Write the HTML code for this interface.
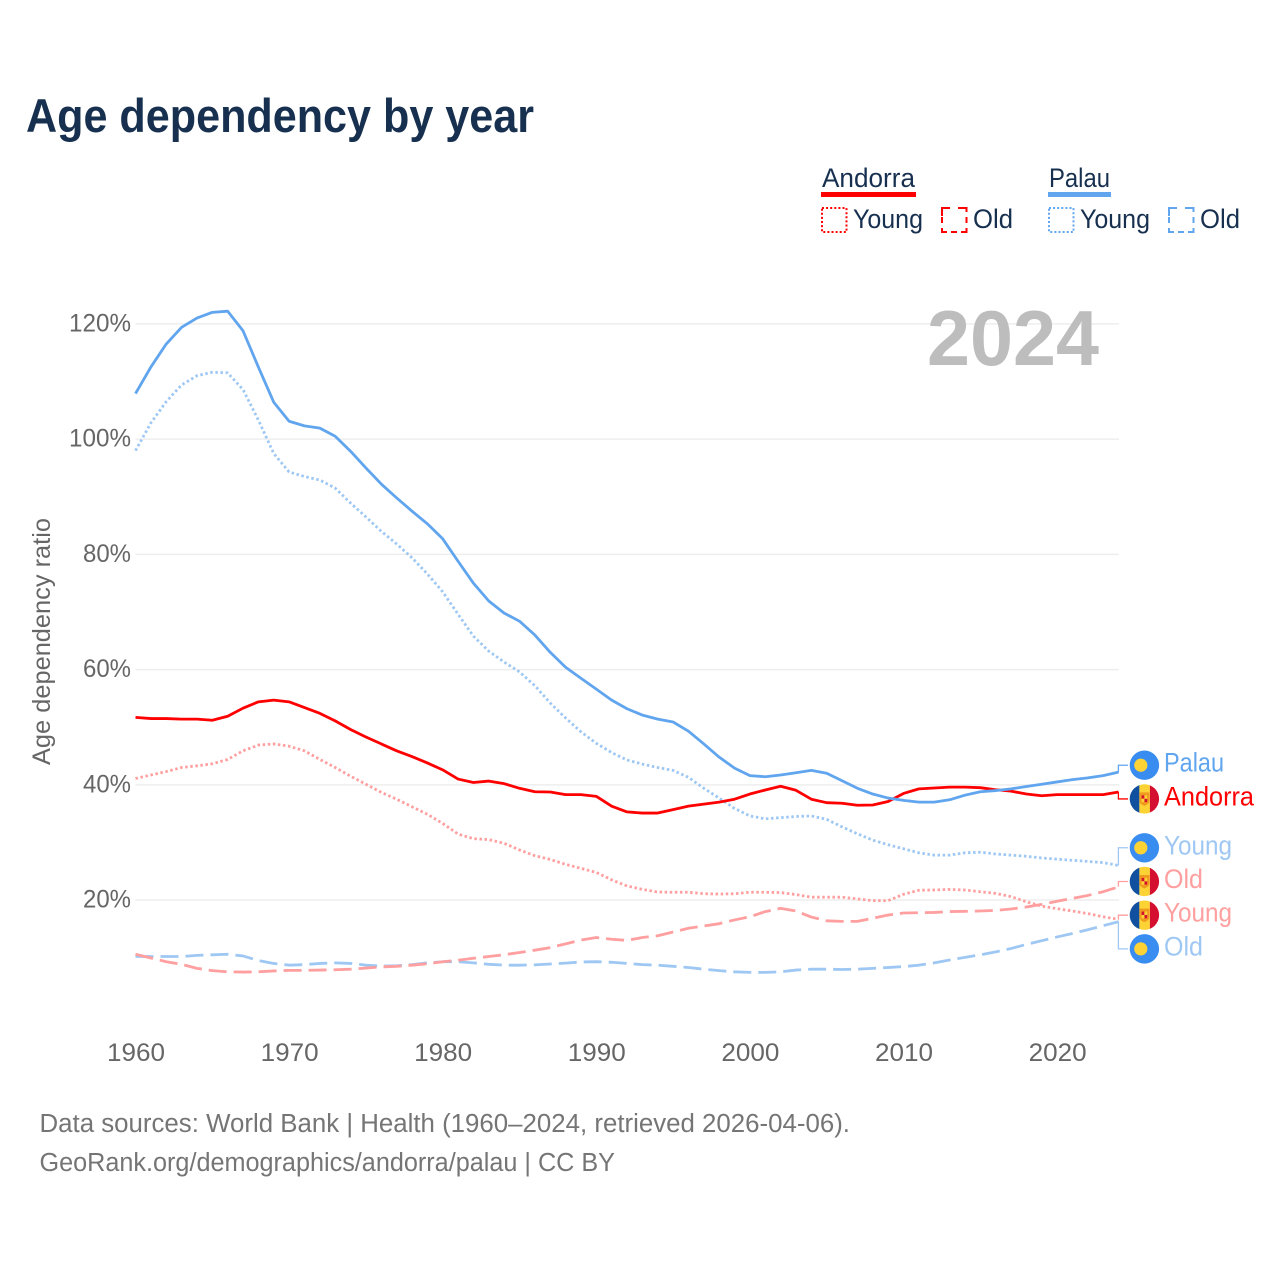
<!DOCTYPE html>
<html lang="en">
<head>
<meta charset="utf-8">
<title>Age dependency by year</title>
<style>
html,body{margin:0;padding:0;background:#fff;width:1280px;height:1280px;overflow:hidden}
svg{display:block}
text{font-family:"Liberation Sans",sans-serif}
</style>
</head>
<body>
<svg id="chart" xmlns="http://www.w3.org/2000/svg" width="1280" height="1280" viewBox="0 0 1280 1280">
  <defs>
    <clipPath id="flag-clip"><circle cx="0" cy="0" r="14.7"/></clipPath>
    <g id="flag-palau">
      <circle cx="0" cy="0" r="14.7" fill="#3a8df0"/>
      <circle cx="-3.6" cy="0" r="6.6" fill="#fdd235"/>
    </g>
    <g id="flag-andorra">
      <g clip-path="url(#flag-clip)">
        <rect x="-15" y="-15" width="10" height="30" fill="#10509e"/>
        <rect x="-5" y="-15" width="10.5" height="30" fill="#fdd235"/>
        <rect x="5.5" y="-15" width="10" height="30" fill="#d50f2f"/>
      </g>
      <path d="M-5 -6.500 H5 V2 Q5 5 0 7 Q-5 5 -5 2 Z" fill="#ef9a1f"/>
      <rect x="-2.8" y="-3.6" width="2.8" height="3.4" fill="#d50f2f"/>
      <rect x="0" y="-0.2" width="2.8" height="3.4" fill="#d50f2f"/>
      <rect x="0" y="-3.6" width="2.8" height="3.4" fill="#fdd235"/>
      <rect x="-2.8" y="-0.2" width="2.8" height="3.4" fill="#fdd235"/>
    </g>
  </defs>

  <rect width="1280" height="1280" fill="#fff"/>
  <text x="26" y="132" font-size="47" font-weight="700" fill="#17304f" textLength="508" lengthAdjust="spacingAndGlyphs">Age dependency by year</text>

  <g>
    <g>
      <text x="822" y="187" font-size="27" fill="#17304f" textLength="93" lengthAdjust="spacingAndGlyphs">Andorra</text>
      <rect x="821" y="192" width="95" height="5" fill="#ff0000"/>
      <rect x="822" y="208" width="24.5" height="24" fill="none" stroke="#ff0000" stroke-width="2" stroke-dasharray="2 2.1"/>
      <text x="853" y="228" font-size="27" fill="#17304f" textLength="70" lengthAdjust="spacingAndGlyphs">Young</text>
      <path transform="translate(942 208)" d="M0 8V0H8M16 0H24.500V4M24.500 9V15M24.500 20V24H19M15 24H9M5 24H0V20M0 15V9M0 4V0" fill="none" stroke="#ff0000" stroke-width="2"/>
      <text x="973" y="228" font-size="27" fill="#17304f" textLength="40" lengthAdjust="spacingAndGlyphs">Old</text>
    </g>
    <g>
      <text x="1049" y="187" font-size="27" fill="#17304f" textLength="61" lengthAdjust="spacingAndGlyphs">Palau</text>
      <rect x="1048" y="192" width="63" height="5" fill="#60a5ee"/>
      <rect x="1049" y="208" width="24.500" height="24" fill="none" stroke="#60a5ee" stroke-width="2" stroke-dasharray="2 2.1"/>
      <text x="1080" y="228" font-size="27" fill="#17304f" textLength="70" lengthAdjust="spacingAndGlyphs">Young</text>
      <path transform="translate(1169 208)" d="M0 8V0H8M16 0H24.500V4M24.500 9V15M24.500 20V24H19M15 24H9M5 24H0V20M0 15V9M0 4V0" fill="none" stroke="#60a5ee" stroke-width="2"/>
      <text x="1200" y="228" font-size="27" fill="#17304f" textLength="40" lengthAdjust="spacingAndGlyphs">Old</text>
    </g>
  </g>

  <g id="grid"></g>
  <text x="927" y="365" font-size="78" font-weight="700" fill="#bdbdbd" textLength="172" lengthAdjust="spacingAndGlyphs">2024</text>
  <g id="y-ticks"></g>
  <g id="x-ticks"></g>
  <text transform="translate(50 641.500) rotate(-90)" text-anchor="middle" font-size="25" fill="#666666" textLength="247" lengthAdjust="spacingAndGlyphs">Age dependency ratio</text>
  <g id="series"></g>
  <g id="end-labels"></g>

  <g>
    <text x="39.500" y="1132" font-size="25.500" fill="#757575" textLength="810.500" lengthAdjust="spacingAndGlyphs">Data sources: World Bank | Health (1960–2024, retrieved 2026-04-06).</text>
    <text x="39.500" y="1171" font-size="25.500" fill="#757575" textLength="575.500" lengthAdjust="spacingAndGlyphs">GeoRank.org/demographics/andorra/palau | CC BY</text>
  </g>
</svg>

<script>
const years = [1960,1961,1962,1963,1964,1965,1966,1967,1968,1969,1970,1971,1972,1973,1974,1975,1976,1977,1978,1979,1980,1981,1982,1983,1984,1985,1986,1987,1988,1989,1990,1991,1992,1993,1994,1995,1996,1997,1998,1999,2000,2001,2002,2003,2004,2005,2006,2007,2008,2009,2010,2011,2012,2013,2014,2015,2016,2017,2018,2019,2020,2021,2022,2023,2024];
const yTickValues = [20,40,60,80,100,120];
const xTickValues = [1960,1970,1980,1990,2000,2010,2020];

const palauTotal = [107.9,112.5,116.5,119.4,121.0,122.0,122.2,118.8,112.5,106.4,103.1,102.3,101.9,100.5,97.9,95.0,92.2,89.8,87.5,85.3,82.7,78.8,75.0,71.9,69.8,68.4,66.0,63.0,60.4,58.5,56.6,54.7,53.2,52.1,51.4,50.9,49.3,47.1,44.8,42.9,41.6,41.4,41.7,42.1,42.5,42.0,40.7,39.4,38.4,37.7,37.3,37.0,37.0,37.4,38.2,38.8,39.0,39.3,39.7,40.1,40.5,40.9,41.2,41.6,42.2];
const palauYoung = [98.0,102.8,106.5,109.4,111.0,111.6,111.5,108.6,103.3,97.5,94.3,93.5,92.9,91.5,88.9,86.5,84.0,81.8,79.4,76.6,73.5,69.6,65.8,63.2,61.3,59.6,57.2,54.2,51.6,49.2,47.2,45.6,44.3,43.6,43.0,42.5,41.3,39.4,37.7,35.9,34.6,34.1,34.3,34.5,34.6,34.0,32.7,31.5,30.4,29.6,28.9,28.2,27.8,27.8,28.2,28.3,28.0,27.8,27.6,27.3,27.1,26.9,26.7,26.5,26.0];
const palauOld = [10.2,10.2,10.2,10.2,10.4,10.5,10.6,10.3,9.5,9.0,8.7,8.8,9.0,9.1,9.0,8.7,8.55,8.6,8.8,9.1,9.3,9.3,9.1,8.85,8.7,8.7,8.75,8.9,9.05,9.25,9.3,9.2,9.0,8.8,8.7,8.5,8.3,8.0,7.75,7.55,7.45,7.45,7.55,7.85,8.0,8.0,7.95,8.0,8.15,8.3,8.45,8.7,9.1,9.6,10.05,10.5,11.0,11.6,12.3,12.95,13.6,14.2,14.85,15.55,16.25];
const andorraTotal = [51.7,51.5,51.5,51.4,51.4,51.2,51.9,53.3,54.4,54.7,54.4,53.4,52.4,51.1,49.6,48.3,47.1,45.9,44.9,43.8,42.6,41.0,40.4,40.65,40.2,39.4,38.8,38.75,38.3,38.3,38.0,36.3,35.3,35.1,35.1,35.7,36.3,36.65,37.0,37.5,38.4,39.1,39.75,39.05,37.5,36.9,36.8,36.45,36.5,37.1,38.5,39.3,39.45,39.6,39.6,39.5,39.15,38.9,38.4,38.1,38.3,38.3,38.3,38.3,38.75];
const andorraYoung = [41.1,41.7,42.3,43.0,43.3,43.65,44.4,45.9,46.9,47.1,46.7,45.9,44.4,43.0,41.5,40.1,38.7,37.5,36.2,34.9,33.3,31.45,30.65,30.5,29.85,28.7,27.7,27.05,26.2,25.5,24.8,23.5,22.45,21.85,21.4,21.35,21.35,21.1,21.05,21.1,21.35,21.35,21.3,20.95,20.5,20.5,20.5,20.2,19.9,19.9,21.0,21.7,21.75,21.85,21.75,21.45,21.15,20.6,19.7,18.95,18.5,18.1,17.65,17.1,16.65];
const andorraOld = [10.6,9.95,9.3,8.85,8.15,7.75,7.55,7.5,7.55,7.7,7.8,7.8,7.85,7.9,8.0,8.2,8.4,8.5,8.7,8.95,9.3,9.55,9.9,10.2,10.5,10.9,11.3,11.75,12.4,13.05,13.5,13.2,13.0,13.5,13.8,14.45,15.1,15.5,15.9,16.55,17.1,18.0,18.55,18.1,17.05,16.4,16.3,16.3,16.85,17.4,17.75,17.8,17.85,18.0,18.05,18.1,18.2,18.45,18.8,19.25,19.8,20.3,20.8,21.45,22.3];

const SVG_NS = 'http://www.w3.org/2000/svg';
const xScale = function (year) { return 135.5 + (year - 1960) * 15.36; };
const yScale = function (value) { return 1015.3 - value * 5.762; };

function make(parent, tag, attrs, text) {
  const el = document.createElementNS(SVG_NS, tag);
  for (const k in attrs) el.setAttribute(k, attrs[k]);
  if (text !== undefined) el.textContent = text;
  parent.appendChild(el);
  return el;
}

const gridGroup = document.getElementById('grid');
const yGroup = document.getElementById('y-ticks');
yTickValues.forEach(function (v) {
  const line = make(gridGroup, 'line', {x1: 135.5, x2: 1119, y1: yScale(v), y2: yScale(v), stroke: '#eeeeee', 'stroke-width': 1.5});
  
  
  const label = make(yGroup, 'text', {x: 131, y: yScale(v) + 7.5, 'text-anchor': 'end', 'font-size': 25, fill: '#666666', textLength: v >= 100 ? 62 : 48, lengthAdjust: 'spacingAndGlyphs'}, v + '%');
  
  
});

const xGroup = document.getElementById('x-ticks');
xTickValues.forEach(function (t) {
  const label = make(xGroup, 'text', {x: xScale(t) + 0.5, y: 1061, 'text-anchor': 'middle', 'font-size': 25, fill: '#666666', textLength: 58, lengthAdjust: 'spacingAndGlyphs'}, String(t));
  
  
});

const seriesList = [
  {id: 'palau-old', values: palauOld, color: '#9ec8f3', dash: '18 7', width: 2.8, label: 'Old', flag: 'flag-palau', group: 'parts'},
  {id: 'andorra-old', values: andorraOld, color: '#ff9f9f', dash: '18 7', width: 2.8, label: 'Old', flag: 'flag-andorra', group: 'parts'},
  {id: 'andorra-young', values: andorraYoung, color: '#ff9f9f', dash: '2.5 2.6', width: 2.8, label: 'Young', flag: 'flag-andorra', group: 'parts'},
  {id: 'palau-young', values: palauYoung, color: '#9ec8f3', dash: '2.5 2.6', width: 2.8, label: 'Young', flag: 'flag-palau', group: 'parts'},
  {id: 'andorra-total', values: andorraTotal, color: '#ff0000', dash: null, width: 2.8, label: 'Andorra', flag: 'flag-andorra', group: 'totals'},
  {id: 'palau-total', values: palauTotal, color: '#60a5ee', dash: null, width: 2.8, label: 'Palau', flag: 'flag-palau', group: 'totals'}
];
const labelWidths = {Palau: 60, Andorra: 90, Young: 68, Old: 39};

const seriesGroup = document.getElementById('series');
seriesList.forEach(function (s) {
  const points = s.values.map(function (v, i) { return xScale(years[i]).toFixed(2) + ',' + yScale(v).toFixed(2); }).join(' ');
  const attrs = {points: points, fill: 'none', stroke: s.color, 'stroke-width': s.width, 'stroke-linejoin': 'round'};
  if (s.dash) attrs['stroke-dasharray'] = s.dash;
  const line = make(seriesGroup, 'polyline', attrs);
  
  
});

/* End labels: each group is stacked around the mean of its end values. */
const endGroup = document.getElementById('end-labels');
const slotSpacing = 33.7;
['totals', 'parts'].forEach(function (groupName) {
  const members = seriesList.filter(function (s) { return s.group === groupName; }).map(function (s) {
    return {s: s, endY: yScale(s.values[s.values.length - 1])};
  }).sort(function (a, b) { return a.endY - b.endY; });
  const mean = members.reduce(function (acc, m) { return acc + m.endY; }, 0) / members.length;
  members.forEach(function (m, i) {
    const slotY = mean + (i - (members.length - 1) / 2) * slotSpacing;
    const elbow = make(endGroup, 'polyline', {points: '1118.4,' + m.endY.toFixed(2) + ' 1118.4,' + slotY.toFixed(2) + ' 1128,' + slotY.toFixed(2), fill: 'none', stroke: m.s.color, 'stroke-width': 1.3});
    
    
    const flag = make(endGroup, 'use', {href: '#' + m.s.flag, transform: 'translate(1144.4 ' + slotY.toFixed(2) + ')'});
    
    
    const label = make(endGroup, 'text', {x: 1164, y: slotY + 6.5, 'font-size': 26.5, fill: m.s.color, textLength: labelWidths[m.s.label], lengthAdjust: 'spacingAndGlyphs'}, m.s.label);
    
    
  });
});
</script>
</body>
</html>
